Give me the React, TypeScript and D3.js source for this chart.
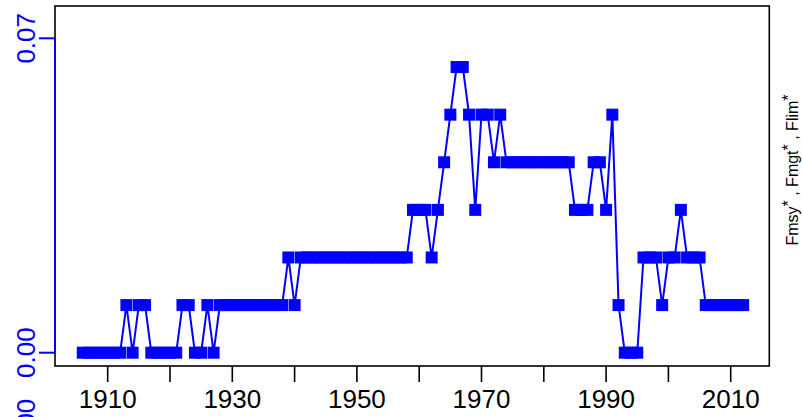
import React from "react";
import * as d3 from "d3";

const years = [
  1906, 1907, 1908, 1909, 1910, 1911, 1912, 1913, 1914, 1915, 1916, 1917, 1918, 1919, 1920,
  1921, 1922, 1923, 1924, 1925, 1926, 1927, 1928, 1929, 1930, 1931, 1932, 1933, 1934, 1935,
  1936, 1937, 1938, 1939, 1940, 1941, 1942, 1943, 1944, 1945, 1946, 1947, 1948, 1949, 1950,
  1951, 1952, 1953, 1954, 1955, 1956, 1957, 1958, 1959, 1960, 1961, 1962, 1963, 1964, 1965,
  1966, 1967, 1968, 1969, 1970, 1971, 1972, 1973, 1974, 1975, 1976, 1977, 1978, 1979, 1980,
  1981, 1982, 1983, 1984, 1985, 1986, 1987, 1988, 1989, 1990, 1991, 1992, 1993, 1994, 1995,
  1996, 1997, 1998, 1999, 2000, 2001, 2002, 2003, 2004, 2005, 2006, 2007, 2008, 2009, 2010,
  2011, 2012,
];

const fValues = [
  0, 0, 0, 0, 0, 0, 0, 0.0106, 0, 0.0106, 0.0106, 0, 0, 0, 0,
  0, 0.0106, 0.0106, 0, 0, 0.0106, 0, 0.0106, 0.0106, 0.0106, 0.0106, 0.0106, 0.0106, 0.0106, 0.0106,
  0.0106, 0.0106, 0.0106, 0.0212, 0.0106, 0.0212, 0.0212, 0.0212, 0.0212, 0.0212, 0.0212, 0.0212, 0.0212, 0.0212, 0.0212,
  0.0212, 0.0212, 0.0212, 0.0212, 0.0212, 0.0212, 0.0212, 0.0212, 0.0318, 0.0318, 0.0318, 0.0212, 0.0318, 0.0424, 0.053,
  0.0636, 0.0636, 0.053, 0.0318, 0.053, 0.053, 0.0424, 0.053, 0.0424, 0.0424, 0.0424, 0.0424, 0.0424, 0.0424, 0.0424,
  0.0424, 0.0424, 0.0424, 0.0424, 0.0318, 0.0318, 0.0318, 0.0424, 0.0424, 0.0318, 0.053, 0.0106, 0, 0, 0,
  0.0212, 0.0212, 0.0212, 0.0106, 0.0212, 0.0212, 0.0318, 0.0212, 0.0212, 0.0212, 0.0106, 0.0106, 0.0106, 0.0106, 0.0106,
  0.0106, 0.0106,
];

const xTicks = [1910, 1920, 1930, 1940, 1950, 1960, 1970, 1980, 1990, 2000, 2010];
const xTickLabels = [1910, 1930, 1950, 1970, 1990, 2010];
const yTicks = [0, 0.07];
const yTickLabels = ["0.00", "0.07"];
const rightLabelParts = ["Fmsy", "Fmgt", "Flim"];

const W = 803;
const H = 417;
const box = { left: 55, right: 769.3, top: 6, bottom: 366 };
const BLUE = "#0000FF";
const FONT = "'Liberation Sans', Arial, Helvetica, sans-serif";

export default function App() {
  const x = d3.scaleLinear().domain([1910, 2010]).range([107.7, 730.7]);
  const y = d3.scaleLinear().domain([0, 0.07]).range([352.7, 38.3]);
  const pts = years.map((yr, i) => [yr, fValues[i]] as [number, number]);
  const line = d3
    .line<[number, number]>()
    .x((d) => x(d[0]))
    .y((d) => y(d[1]));
  const sq = 12;

  return (
    <div style={{ position: "fixed", left: 0, top: 0, width: W, height: H, background: "#fff" }}>
      <svg width={W} height={H} style={{ display: "block" }}>
        <rect x={0} y={0} width={W} height={H} fill="#fff" />
        {/* plot box */}
        <rect
          x={box.left}
          y={box.top}
          width={box.right - box.left}
          height={box.bottom - box.top}
          fill="none"
          stroke="#000"
          strokeWidth={1.6}
        />
        {/* data line */}
        <path d={line(pts) || ""} fill="none" stroke={BLUE} strokeWidth={2} />
        {pts.map((d, i) => (
          <rect
            key={i}
            x={x(d[0]) - sq / 2}
            y={y(d[1]) - sq / 2}
            width={sq}
            height={sq}
            fill={BLUE}
          />
        ))}
        {/* x axis */}
        {xTicks.map((t) => (
          <line key={t} x1={x(t)} x2={x(t)} y1={box.bottom} y2={382} stroke="#000" strokeWidth={1.6} />
        ))}
        {xTickLabels.map((t) => (
          <text
            key={t}
            x={x(t)}
            y={408}
            textAnchor="middle"
            fontFamily={FONT}
            fontSize={26}
            fill="#000"
          >
            {t}
          </text>
        ))}
        {/* left y axis (blue) */}
        <line x1={box.left} x2={box.left} y1={y(0)} y2={y(0.07)} stroke={BLUE} strokeWidth={2} />
        {yTicks.map((t, i) => (
          <g key={t}>
            <line x1={39} x2={box.left} y1={y(t)} y2={y(t)} stroke={BLUE} strokeWidth={2} />
            <text
              transform={`translate(35,${y(t)}) rotate(-90)`}
              textAnchor="middle"
              fontFamily={FONT}
              fontSize={26}
              fill={BLUE}
            >
              {yTickLabels[i]}
            </text>
          </g>
        ))}
        {/* partially visible label of a lower axis */}
        <text
          transform={`translate(35,424) rotate(-90)`}
          textAnchor="middle"
          fontFamily={FONT}
          fontSize={26}
          fill={BLUE}
        >
          0.00
        </text>
        {/* right label */}
        <text
          transform={`translate(798,170) rotate(-90)`}
          textAnchor="middle"
          fontFamily={FONT}
          fontSize={16}
          fill="#000"
        >
          {rightLabelParts.map((p, i) => (
            <React.Fragment key={p}>
              <tspan>{p}</tspan>
              <tspan dy={-4}>*</tspan>
              <tspan dy={4}>{i < rightLabelParts.length - 1 ? " , " : ""}</tspan>
            </React.Fragment>
          ))}
        </text>
      </svg>
    </div>
  );
}
